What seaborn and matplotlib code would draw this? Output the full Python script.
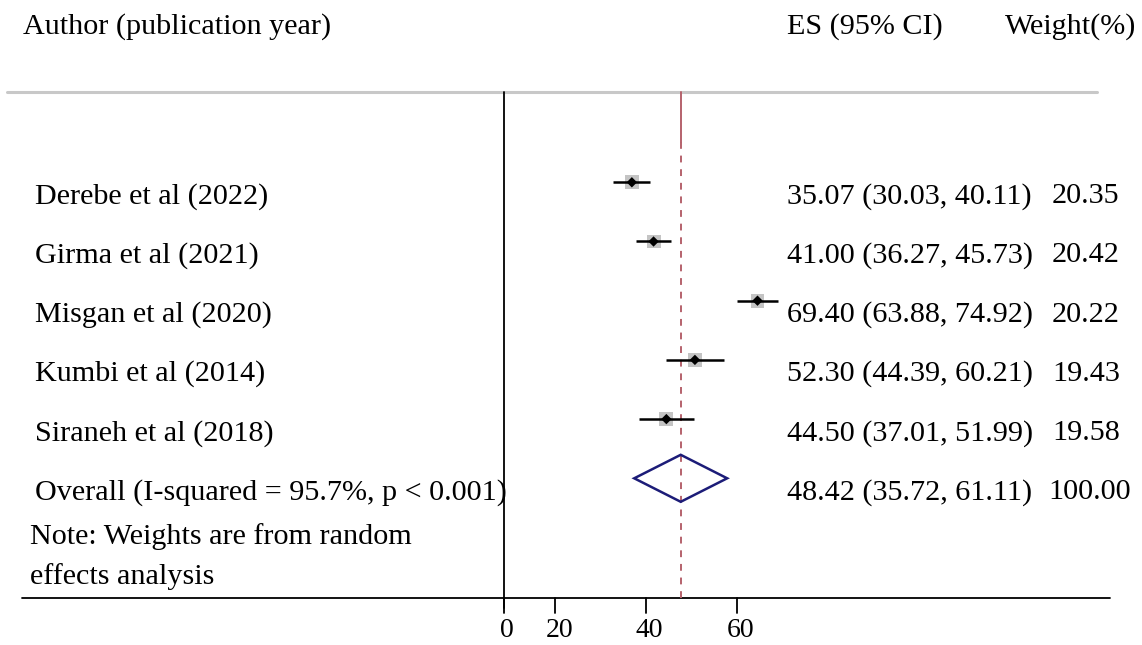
import numpy as np
import pandas as pd
import matplotlib.pyplot as plt
import seaborn as sns
from matplotlib.patches import Polygon

# study data
authors = ['Derebe et al (2022)', 'Girma et al (2021)', 'Misgan et al (2020)',
           'Kumbi et al (2014)', 'Siraneh et al (2018)']
es = [35.07, 41.00, 69.40, 52.30, 44.50]
lower = [30.03, 36.27, 63.88, 44.39, 37.01]
upper = [40.11, 45.73, 74.92, 60.21, 51.99]
weights = [20.35, 20.42, 20.22, 19.43, 19.58]

overall_label = 'Overall (I-squared = 95.7%, p < 0.001)'
overall_es = 48.42
overall_lower = 35.72
overall_upper = 61.11
overall_weight = 100.00

tick_labels = ['0', '20', '40', '60']
# the original axis has unevenly placed ticks, kept as drawn
tick_pos = [0, 14.2, 38.9, 63.8]

df = pd.DataFrame({'author': authors, 'es': es, 'lower': lower,
                   'upper': upper, 'weight': weights})
df['row'] = np.arange(1, len(df) + 1)
overall_row = len(df) + 1

sns.set_theme(style='white')
plt.rcParams['font.family'] = ['Liberation Serif', 'DejaVu Serif']
plt.rcParams['text.color'] = 'black'

fig = plt.figure(figsize=(11.42, 6.45), dpi=100)
ax = fig.add_axes([0, 0, 1, 1])

# pixel-ish mapping: zero at ~503.5 px, 3.66 px per unit; 59.2 px per row
px_unit = 3.66
x0 = 503.5
ax.set_xlim(-x0 / px_unit, (1142 - x0) / px_unit)
row_px = 59.2
ax.set_ylim(1 + (645 - 182.3) / row_px, 1 - 182.3 / row_px)
ax.axis('off')

def xp(p):
    return (p - x0) / px_unit

def yp(p):
    return 1 + (p - 182.3) / row_px

fs = 21.7

# header
ax.text(xp(23), yp(27), 'Author (publication year)', fontsize=fs, va='center')
ax.text(xp(787), yp(27), 'ES (95% CI)', fontsize=fs, va='center')
ax.text(xp(1005), yp(27), 'Weight(%)', fontsize=fs, va='center')

# top grey rule
ax.plot([xp(7), xp(1097)], [yp(92), yp(92)], color='#c8c8c8', lw=2.2)
# bottom axis
ax.plot([xp(22), xp(1110)], [yp(598), yp(598)], color='black', lw=1.3)
# null line at 0
ax.plot([0, 0], [yp(92), yp(608)], color='black', lw=1.3)
for t, lab in zip(tick_pos, tick_labels):
    ax.plot([t, t], [yp(598), yp(613)], color='black', lw=1.3)
    ax.text(t + 1, yp(631), lab, fontsize=20, ha='center', va='center')

# overall effect line
ax.plot([overall_es, overall_es], [yp(92), yp(142)], color='#b5626c', lw=1.4)
ax.plot([overall_es, overall_es], [yp(142), yp(598)], color='#b5626c', lw=1.4,
        ls=(0, (3.5, 3.5)))

# confidence intervals
ax.hlines(df['row'], df['lower'], df['upper'], color='black', lw=1.8, zorder=3)
sns.scatterplot(data=df, x='es', y='row', marker='s', s=100, color='#c4c4c4',
                edgecolor='none', ax=ax, zorder=2, legend=False)
sns.scatterplot(data=df, x='es', y='row', marker='D', s=28, color='black',
                edgecolor='none', ax=ax, zorder=4, legend=False)

# overall diamond
h = 23.5 / row_px
diamond = Polygon([[overall_lower, overall_row], [overall_es, overall_row - h],
                   [overall_upper, overall_row], [overall_es, overall_row + h]],
                  closed=True, fill=False, edgecolor='#1c1c78', lw=1.8, zorder=5)
ax.add_patch(diamond)

# row texts
off = 14 / row_px
for _, r in df.iterrows():
    ax.text(xp(35), r['row'] + off, r['author'], fontsize=fs, va='center')
    ax.text(xp(787), r['row'] + off,
            f"{r['es']:.2f} ({r['lower']:.2f}, {r['upper']:.2f})",
            fontsize=fs, va='center')
    ax.text(xp(1052), r['row'] + off, f"{r['weight']:.2f}", fontsize=fs, va='center')

ax.text(xp(35), overall_row + off, overall_label, fontsize=fs, va='center')
ax.text(xp(787), overall_row + off,
        f"{overall_es:.2f} ({overall_lower:.2f}, {overall_upper:.2f})",
        fontsize=fs, va='center')
ax.text(xp(1048), overall_row + off, f"{overall_weight:.2f}", fontsize=fs, va='center')

ax.text(xp(30), yp(537), 'Note: Weights are from random', fontsize=fs, va='center')
ax.text(xp(30), yp(577), 'effects analysis', fontsize=fs, va='center')

fig.savefig('out.png', dpi=100)
